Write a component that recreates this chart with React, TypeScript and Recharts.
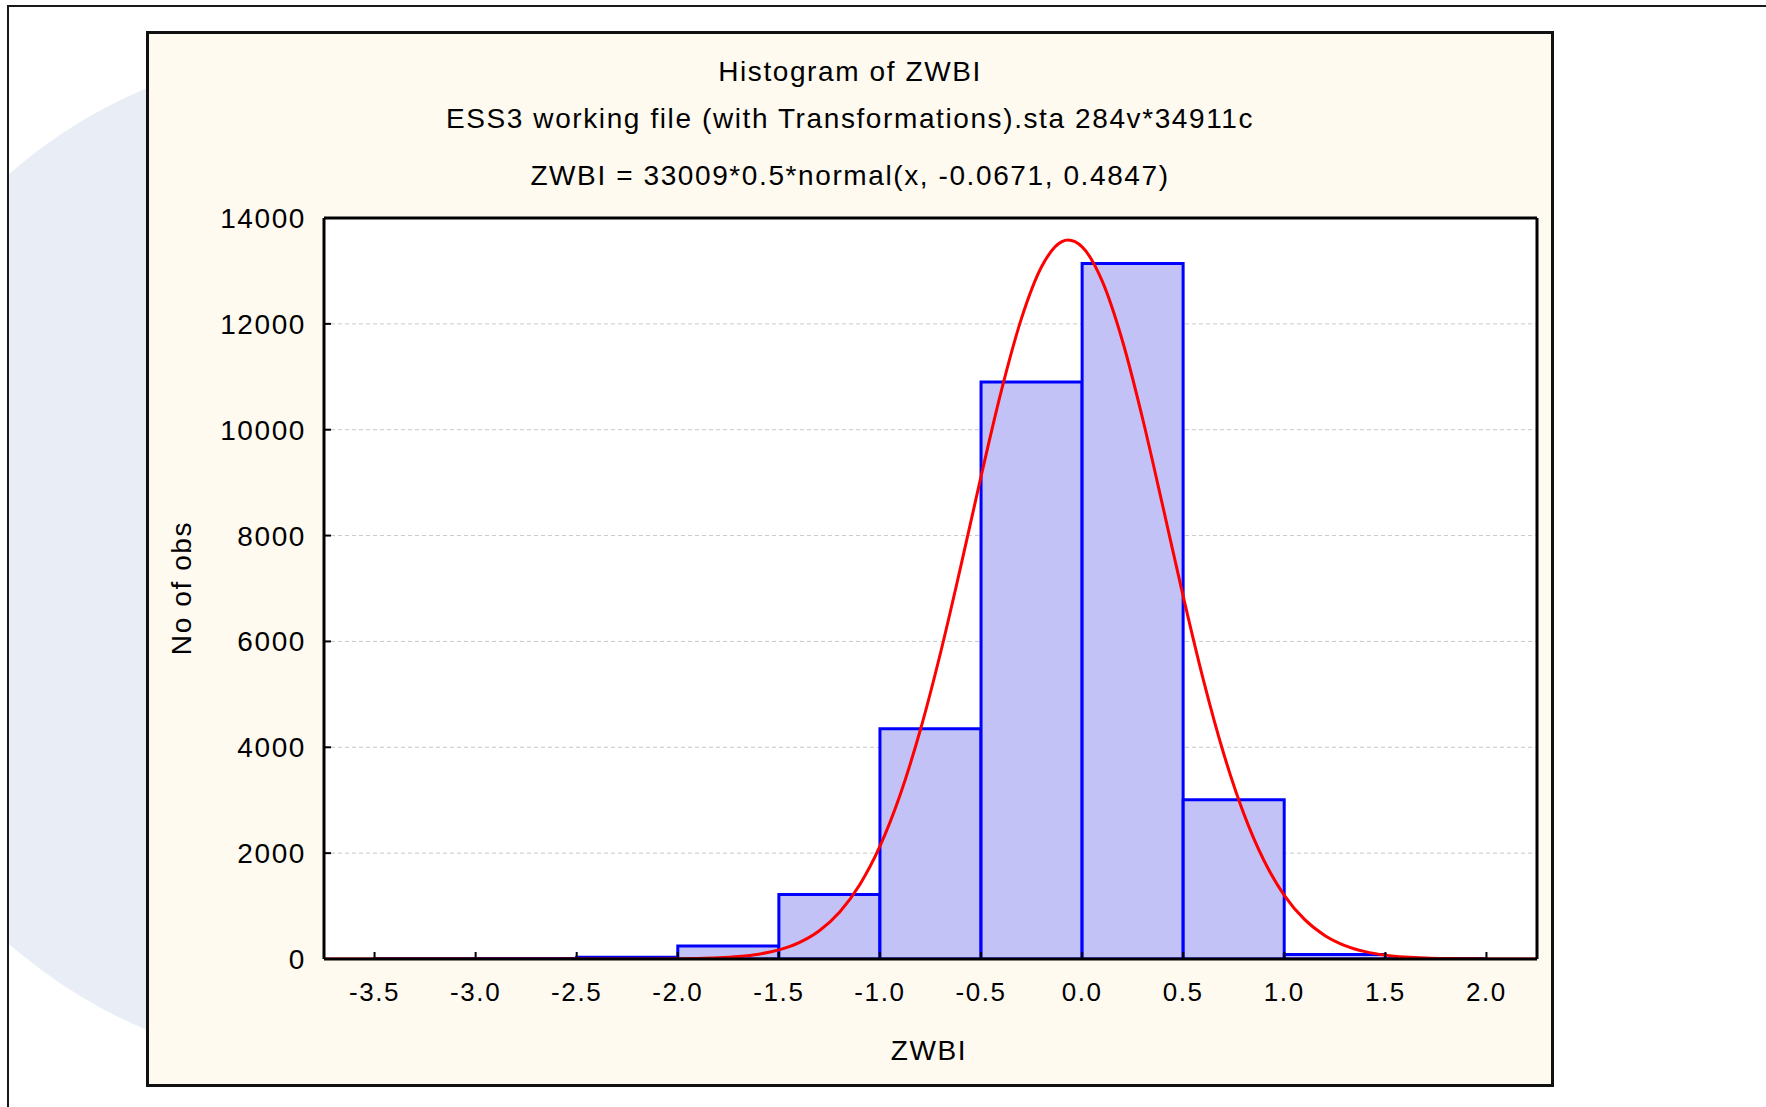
import React from 'react';
import { ComposedChart, Bar, Line, XAxis, YAxis, CartesianGrid } from 'recharts';

// ---- data ----
const binCenters = [-3.25, -2.75, -2.25, -1.75, -1.25, -0.75, -0.25, 0.25, 0.75, 1.25, 1.75];
const binCounts = [3, 8, 35, 245, 1220, 4350, 10900, 13140, 3010, 85, 6];

const curveX = [
  -3.75, -3.0, -2.5, -2.3, -2.2, -2.1, -2.0, -1.9, -1.8, -1.7, -1.6, -1.5, -1.4, -1.3, -1.2, -1.1,
  -1.0, -0.9, -0.8, -0.7, -0.6, -0.5, -0.4, -0.3, -0.2, -0.1, -0.07, 0.0, 0.1, 0.2, 0.3, 0.4,
  0.5, 0.6, 0.7, 0.8, 0.9, 1.0, 1.1, 1.2, 1.3, 1.4, 1.5, 1.6, 1.7, 1.8, 1.9, 2.0, 2.1, 2.25,
];
const curveY = [
  0, 0, 0, 0.3, 0.8, 2, 5, 11, 23, 47, 91, 172, 310, 535, 884, 1403,
  2131, 3103, 4331, 5791, 7422, 9117, 10730, 12103, 13083, 13553, 13584, 13455, 12801, 11671, 10198, 8538,
  6851, 5269, 3883, 2742, 1856, 1204, 748, 446, 254, 139, 73, 37, 18, 8, 4, 1.5, 0.6, 0,
];

const xTicks = [-3.5, -3.0, -2.5, -2.0, -1.5, -1.0, -0.5, 0.0, 0.5, 1.0, 1.5, 2.0];
const yTicks = [0, 2000, 4000, 6000, 8000, 10000, 12000, 14000];
const xDomain: [number, number] = [-3.75, 2.25];
const yDomain: [number, number] = [0, 14000];

const titleLines = [
  'Histogram of ZWBI',
  'ESS3 working file (with Transformations).sta 284v*34911c',
  'ZWBI = 33009*0.5*normal(x, -0.0671, 0.4847)',
];
const xLabel = 'ZWBI';
const yLabel = 'No of obs';

const binData = binCenters.map((x, i) => ({ x, count: binCounts[i] }));
const curveData = curveX.map((x, i) => ({ x, fit: curveY[i] }));

const FONT = '"Liberation Sans", Arial, Helvetica, sans-serif';
const LS = 1.6;

const textBase: React.CSSProperties = {
  position: 'absolute',
  fontFamily: FONT,
  fontSize: 28,
  lineHeight: '28px',
  letterSpacing: LS,
  color: '#000',
  whiteSpace: 'nowrap',
};

export default function App() {
  const titleCenters = [72, 119, 176];
  return (
    <div
      style={{
        position: 'absolute',
        left: 0,
        top: 0,
        width: 1766,
        height: 1107,
        overflow: 'hidden',
        background: '#ffffff',
      }}
    >
      {/* outer slide frame with decorative circle */}
      <div
        style={{
          position: 'absolute',
          left: 7,
          top: 5,
          width: 1900,
          height: 1300,
          border: '2px solid #1a1a1a',
          overflow: 'hidden',
          background: '#ffffff',
        }}
      >
        <div
          style={{
            position: 'absolute',
            left: 345 - 511 - 9,
            top: 559 - 511 - 7,
            width: 1022,
            height: 1022,
            borderRadius: '50%',
            background: '#E9EEF6',
          }}
        />
      </div>

      {/* cream panel */}
      <div
        style={{
          position: 'absolute',
          left: 146,
          top: 31,
          width: 1408,
          height: 1056,
          boxSizing: 'border-box',
          border: '3px solid #111',
          background: '#FEFAF0',
        }}
      />

      {/* chart */}
      <div style={{ position: 'absolute', left: 147, top: 32 }}>
        <ComposedChart
          width={1406}
          height={1054}
          data={binData}
          margin={{ top: 176, right: 6, bottom: 87, left: 97 }}
          barCategoryGap={0}
          barGap={0}
          style={{ fontFamily: FONT }}
        >
          <CartesianGrid
            xAxisId="b"
            yAxisId="l"
            vertical={false}
            stroke="#c8c8c8"
            strokeDasharray="4 3"
            fill="#ffffff"
            fillOpacity={1}
          />
          <XAxis
            xAxisId="b"
            type="number"
            dataKey="x"
            domain={xDomain}
            allowDataOverflow
            ticks={xTicks}
            tickCount={12}
            interval={0}
            height={40}
            tickSize={-7}
            tickMargin={31}
            axisLine={{ stroke: '#000', strokeWidth: 3 }}
            tickLine={{ stroke: '#000', strokeWidth: 2 }}
            tick={{ fontSize: 26, fill: '#000', fontFamily: FONT, letterSpacing: LS }}
            tickFormatter={(v: number) => v.toFixed(1)}
          />
          <XAxis
            xAxisId="t"
            orientation="top"
            type="number"
            dataKey="x"
            domain={xDomain}
            allowDataOverflow
            ticks={xTicks}
            tickCount={12}
            interval={0}
            height={10}
            tickSize={-7}
            axisLine={{ stroke: '#000', strokeWidth: 3 }}
            tickLine={{ stroke: '#000', strokeWidth: 2 }}
            tick={false}
          />
          <YAxis
            yAxisId="l"
            type="number"
            domain={yDomain}
            allowDataOverflow
            ticks={yTicks}
            interval={0}
            width={80}
            tickSize={-7}
            tickMargin={25}
            axisLine={{ stroke: '#000', strokeWidth: 3 }}
            tickLine={{ stroke: '#000', strokeWidth: 2 }}
            tick={{ fontSize: 28, fill: '#000', fontFamily: FONT, letterSpacing: LS }}
          />
          <YAxis
            yAxisId="r"
            orientation="right"
            type="number"
            domain={yDomain}
            allowDataOverflow
            ticks={yTicks}
            interval={0}
            width={10}
            tickSize={-7}
            axisLine={{ stroke: '#000', strokeWidth: 3 }}
            tickLine={{ stroke: '#000', strokeWidth: 2 }}
            tick={false}
          />
          <Bar
            xAxisId="b"
            yAxisId="l"
            dataKey="count"
            fill="#C2C2F7"
            stroke="#0000ff"
            strokeWidth={3}
            isAnimationActive={false}
          />
          <Line
            xAxisId="t"
            yAxisId="r"
            data={curveData}
            dataKey="fit"
            type="monotone"
            stroke="#ff0000"
            strokeWidth={3}
            dot={false}
            activeDot={false}
            isAnimationActive={false}
          />
        </ComposedChart>
      </div>

      {/* titles */}
      {titleLines.map((t, i) => (
        <div
          key={i}
          style={{
            ...textBase,
            left: 147,
            width: 1406,
            textAlign: 'center',
            top: titleCenters[i] - 14,
          }}
        >
          {t}
        </div>
      ))}

      {/* axis titles */}
      <div
        style={{
          ...textBase,
          left: 929,
          top: 1051,
          transform: 'translate(-50%, -50%)',
        }}
      >
        {xLabel}
      </div>
      <div
        style={{
          ...textBase,
          left: 182,
          top: 588,
          transform: 'translate(-50%, -50%) rotate(-90deg)',
        }}
      >
        {yLabel}
      </div>
    </div>
  );
}
